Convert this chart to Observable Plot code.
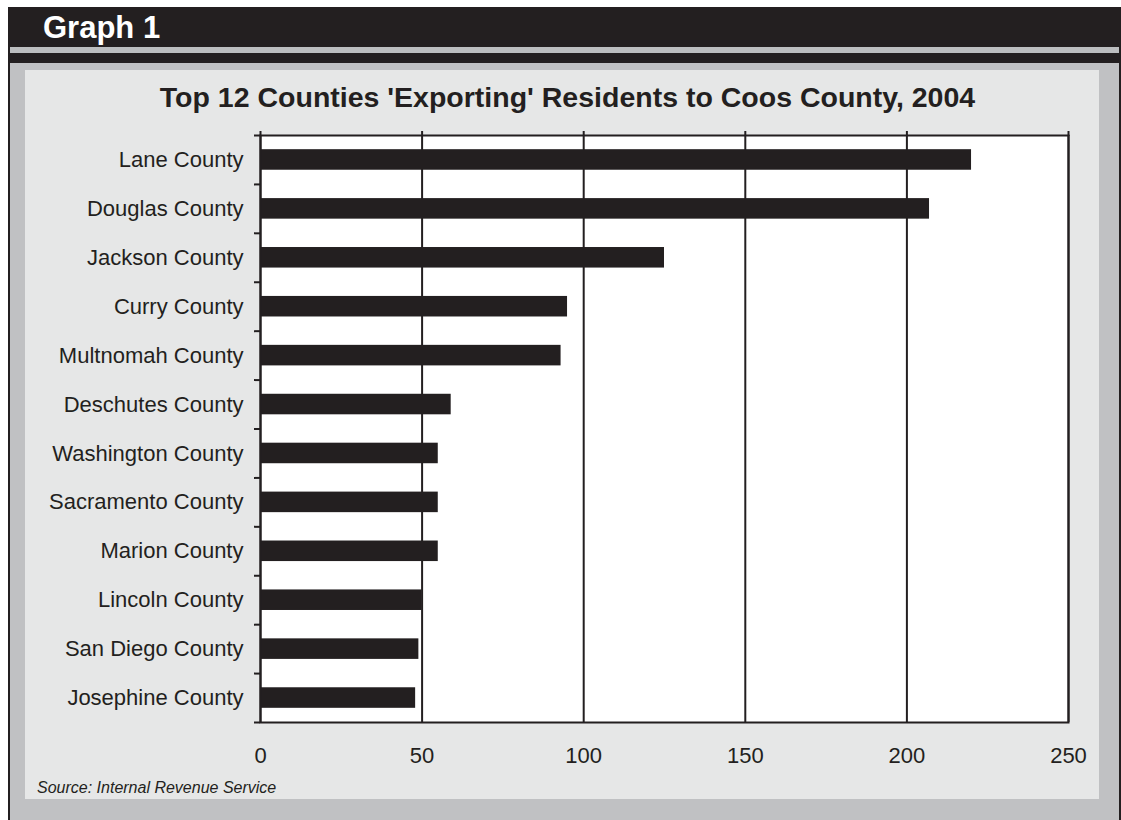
<!DOCTYPE html>
<html>
<head>
<meta charset="utf-8">
<script src="https://cdn.jsdelivr.net/npm/d3@7"></script>
<script src="https://cdn.jsdelivr.net/npm/@observablehq/plot@0.6"></script>
<style>
  html, body { margin: 0; padding: 0; background: #ffffff; }
  body { width: 1121px; height: 820px; position: relative; overflow: hidden;
         font-family: "Liberation Sans", Arial, Helvetica, sans-serif; }
  #outer { position: absolute; left: 8px; top: 7px; width: 1113px; height: 813px; background: #231f20; }
  #hdrline { position: absolute; left: 10px; top: 47px; width: 1109px; height: 6px; background: #bcbec0; }
  #grayarea { position: absolute; left: 10px; top: 63px; width: 1109px; height: 757px; background: #c0c1c3; }
  #panel { position: absolute; left: 25px; top: 70px; width: 1074px; height: 729px; background: #e6e7e7; }
  #graph { position: absolute; left: 43px; top: 12px; font-size: 31px; font-weight: bold; color: #ffffff; line-height: 1; }
  #title { position: absolute; left: 0; width: 1135px; top: 83px; text-align: center; font-size: 28.5px; font-weight: bold; color: #231f20; line-height: 1; }
  #source { position: absolute; left: 37px; top: 780px; font-size: 16px; font-style: italic; color: #231f20; line-height: 1; }
  #chart { position: absolute; left: 25px; top: 70px; }
</style>
</head>
<body>
<div id="outer"></div>
<div id="hdrline"></div>
<div id="grayarea"></div>
<div id="panel"></div>
<div id="graph">Graph 1</div>
<div id="title">Top 12 Counties 'Exporting' Residents to Coos County, 2004</div>
<div id="chart"></div>
<div id="source">Source: Internal Revenue Service</div>
<script>
const counties = [
  "Lane County", "Douglas County", "Jackson County", "Curry County",
  "Multnomah County", "Deschutes County", "Washington County", "Sacramento County",
  "Marion County", "Lincoln County", "San Diego County", "Josephine County"
];
const residents = [220, 207, 125, 95, 93, 59, 55, 55, 55, 50, 49, 48];
const xTicks = [0, 50, 100, 150, 200, 250];

const data = counties.map((c, i) => ({county: c, value: residents[i]}));

const W = 1074, H = 729;
const mt = 65, mb = 77, ml = 235, mr = 31;
const step = (H - mt - mb) / counties.length;
const dark = "#231f20";

const chart = Plot.plot({
  width: W,
  height: H,
  marginTop: mt,
  marginBottom: mb,
  marginLeft: ml,
  marginRight: mr,
  style: {background: "none", fontFamily: "'Liberation Sans', Arial, sans-serif", color: dark, overflow: "visible"},
  x: {domain: [0, 250]},
  y: {domain: counties, paddingInner: 0.58, paddingOuter: 0.29, round: false},
  marks: [
    Plot.frame({fill: "#ffffff", stroke: null}),
    Plot.gridX(xTicks, {stroke: dark, strokeOpacity: 1, strokeWidth: 2}),
    Plot.barX(data, {x: "value", y: "county", fill: dark}),
    Plot.frame({stroke: dark, strokeWidth: 2}),
    Plot.axisX(xTicks, {anchor: "top", tickSize: 5, tickFormat: () => "", stroke: dark, strokeWidth: 2, label: null}),
    Plot.axisX(xTicks, {anchor: "bottom", tickSize: 0, tickPadding: 25, fontSize: 22, fill: dark, label: null}),
    Plot.axisY({anchor: "left", tickSize: 0, tickPadding: 17, fontSize: 22, fill: dark, label: null}),
    Plot.axisY({anchor: "left", tickSize: 6, tickFormat: () => "", dy: -step / 2, stroke: dark, strokeWidth: 2, label: null}),
    Plot.axisY([counties[counties.length - 1]], {anchor: "left", tickSize: 6, tickFormat: () => "", dy: step / 2, stroke: dark, strokeWidth: 2, label: null})
  ]
});
document.getElementById("chart").appendChild(chart);
</script>
</body>
</html>
